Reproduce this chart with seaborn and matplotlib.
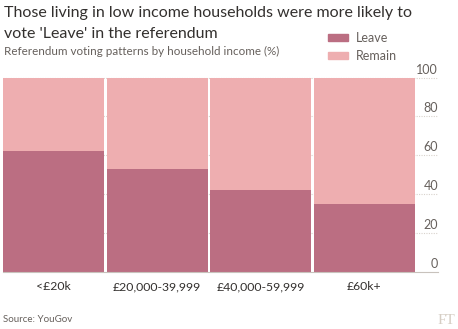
import matplotlib
matplotlib.use("Agg")
import matplotlib.pyplot as plt
import matplotlib.patches as mpatches
import seaborn as sns
import pandas as pd

# Referendum vote share by household income band (%)
categories = ["<£20k", "£20,000-39,999", "£40,000-59,999", "£60k+"]
leave = [62, 53, 42, 35]
remain = [38, 47, 58, 65]
yticks = [0, 20, 40, 60, 80, 100]

LEAVE_C = "#bb6e82"
REMAIN_C = "#eeaeb0"
TEXT_C = "#33302e"
GREY_C = "#66605c"

sns.set_theme(style="white")
plt.rcParams["font.family"] = ["Lato", "DejaVu Sans"]

df = pd.DataFrame({"income": categories, "leave": leave, "remain": remain})
df["total"] = df["leave"] + df["remain"]

fig = plt.figure(figsize=(4.58, 3.29), dpi=100)
ax = fig.add_axes([3 / 458, 1 - 271.7 / 329, 412 / 458, (271.7 - 77.5) / 329])

# dotted gridlines, carried out under the right-hand labels
for v in yticks[1:]:
    ax.axhline(v, xmin=0, xmax=1.056, color="#d8d2cc", lw=0.8,
               ls=(0, (1, 1.2)), clip_on=False, zorder=0)

sns.barplot(data=df, x="income", y="total", color=REMAIN_C, width=0.975,
            saturation=1, linewidth=0, ax=ax, zorder=2)
sns.barplot(data=df, x="income", y="leave", color=LEAVE_C, width=0.975,
            saturation=1, linewidth=0, ax=ax, zorder=3)

ax.set_xlim(-0.4875, 3.4875)
ax.set_ylim(0, 100)
ax.set_xlabel("")
ax.set_ylabel("")
ax.set_yticks([])
for s in ["top", "left", "right"]:
    ax.spines[s].set_visible(False)
ax.spines["bottom"].set_color("#c8c2bc")
ax.spines["bottom"].set_linewidth(0.8)
ax.spines["bottom"].set_bounds(-0.4875, 3.4875 + 0.056 * 3.975)
ax.spines["bottom"].set_zorder(4)

ax.tick_params(axis="x", length=0, pad=7, labelsize=8.8, labelcolor=TEXT_C)

# right-hand value labels, sitting on their gridlines
for v in yticks:
    ax.text(1.056, v + 1, str(v), transform=ax.get_yaxis_transform(),
            ha="right", va="bottom", fontsize=9, color=GREY_C)

fig.text(4 / 458, 1 - 17 / 329, "Those living in low income households were more likely to",
         fontsize=11.5, color=TEXT_C, va="baseline", ha="left")
fig.text(4 / 458, 1 - 38 / 329, "vote 'Leave' in the referendum",
         fontsize=11.5, color=TEXT_C, va="baseline", ha="left")
fig.text(4 / 458, 1 - 51 / 329, "Referendum voting patterns by household income (%)",
         fontsize=8.4, color=GREY_C, va="center", ha="left")

handles = [mpatches.Patch(color=LEAVE_C, label="Leave"),
           mpatches.Patch(color=REMAIN_C, label="Remain")]
fig.legend(handles=handles, loc="upper left", bbox_to_anchor=(322 / 458, 1 - 26 / 329),
           frameon=False, fontsize=9, labelcolor=GREY_C, handlelength=1.6,
           handleheight=0.5, handletextpad=0.6, labelspacing=0.45, borderpad=0)

fig.text(3 / 458, 1 - 320 / 329, "Source: YouGov", fontsize=7, color=GREY_C,
         va="center", ha="left")
fig.text(455 / 458, 1 - 320 / 329, "FT", fontsize=11, color="#d6cec4",
         family=["Liberation Serif", "DejaVu Serif"], va="center", ha="right")

fig.savefig("out.png", dpi=100)
